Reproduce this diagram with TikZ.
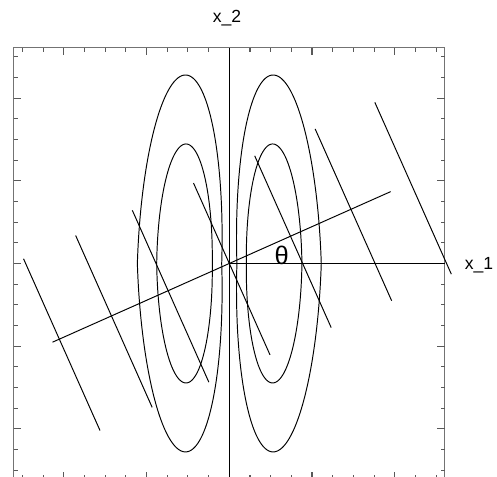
\documentclass[tikz,border=0pt]{standalone}
\usepackage{fontspec}
\setmainfont{Liberation Sans}
\usetikzlibrary{positioning}

\begin{document}
\begin{tikzpicture}[x=1.654cm,y=1.654cm]
\tikzset{
  frameline/.style={draw=black!55,line width=0.6pt},
  tickmark/.style={draw=black!65,line width=0.6pt},
  curveline/.style={line width=0.55pt},
  axislabel/.style={font=\fontsize{10}{12}\selectfont,inner sep=0pt},
  anglelabel/.style={font=\fontsize{14.5}{16}\selectfont,inner sep=0pt}
}
\useasboundingbox (-2.773,-2.582) rectangle (3.237,3.186);
\begin{scope}
\clip (-2.773,-2.582) rectangle (3.237,3.186);
% frame and ticks
\draw[frameline] (-2.606,-2.606) rectangle (2.606,2.606);
\foreach \t in {-2.5,-2.25,...,2.5} {
  \draw[tickmark] (\t,2.606) -- ++(0,-0.045);
  \draw[tickmark] (\t,-2.606) -- ++(0,0.045);
  \draw[tickmark] (-2.606,\t) -- ++(0.045,0);
  \draw[tickmark] (2.606,\t) -- ++(-0.045,0);
}
\foreach \t in {-2,...,2} {
  \draw[tickmark] (\t,2.606) -- ++(0,-0.09);
  \draw[tickmark] (\t,-2.606) -- ++(0,0.09);
  \draw[tickmark] (-2.606,\t) -- ++(0.09,0);
  \draw[tickmark] (2.606,\t) -- ++(-0.09,0);
}
% axes
\coordinate (o) at (0,0);
\coordinate (x2_top) at (0,2.606);
\coordinate (x2_bot) at (0,-2.606);
\coordinate (x1_end) at (2.606,0);
\draw[curveline] (x2_top) -- (x2_bot);
\draw[curveline] (o) -- (x1_end);
% direction theta
\coordinate (dir_lo) at (204:2.34);
\coordinate (dir_hi) at (24:2.136);
\draw[curveline] (dir_lo) -- (dir_hi);
\foreach \p in {-2.25,-1.56,-0.81,0,0.81,1.61,2.40}
  \draw[curveline] ([shift={(114:1.064)}]24:\p) -- ([shift={(-66:1.21)}]24:\p);
% contours
\foreach \s in {1,-1} {
  \begin{scope}[xscale=\s]
    \draw[curveline] plot[domain=0:360,samples=181,variable=\a]
      ({-0.602+0.072*abs(sin(\a))+0.51*cos(\a)},{2.279*sin(\a)}) -- cycle;
    \draw[curveline] plot[domain=0:360,samples=181,variable=\a]
      ({-0.542+0.018*abs(sin(\a))+0.336*cos(\a)},{1.445*sin(\a)}) -- cycle;
  \end{scope}
}
\end{scope}
% labels
\node[axislabel] (lbl_x2) at (-0.027,2.969) {x\_2};
\node[axislabel] (lbl_x1) at (3.02,-0.024) {x\_1};
\node[anglelabel] (lbl_theta) at (0.634,0.093) {θ};
\end{tikzpicture}
\end{document}
